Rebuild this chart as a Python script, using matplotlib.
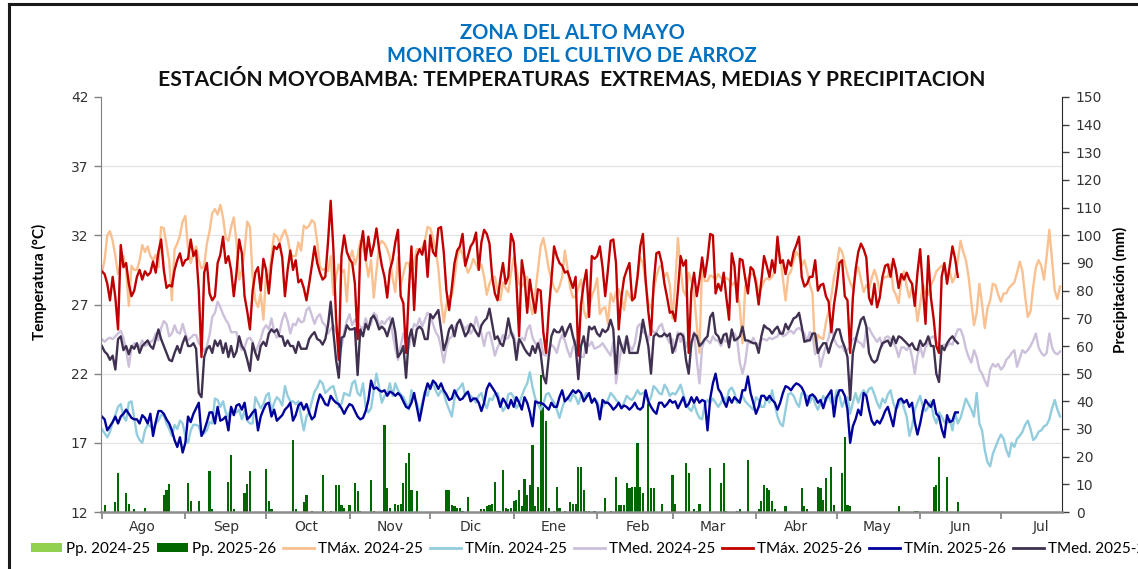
import numpy as np
import pandas as pd
import matplotlib
matplotlib.use("Agg")
import matplotlib.pyplot as plt
from matplotlib.patches import Patch
from matplotlib.lines import Line2D

######## Datos (valores diarios, desde el 1 de agosto)
inicio = "2025-08-01"
meses = ["Ago", "Sep", "Oct", "Nov", "Dic", "Ene", "Feb", "Mar", "Abr", "May", "Jun", "Jul"]

tmax_2425 = [
    29.3, 30.2, 32.0, 32.3, 31.6, 30.5, 29.2, 30.0, 30.5, 29.5,
    26.9, 29.8, 29.5, 29.5, 30.2, 31.3, 30.8, 31.2, 30.5, 30.2,
    30.6, 29.7, 32.6, 32.5, 31.3, 30.2, 27.3, 31.0, 31.4, 32.0,
    33.0, 33.4, 31.0, 30.0, 30.7, 31.2, 30.2, 29.6, 29.8, 31.4,
    32.3, 33.6, 33.9, 33.5, 34.2, 33.3, 31.8, 31.6, 32.6, 33.3,
    31.5, 28.8, 29.5, 30.9, 33.0, 32.6, 29.0, 27.3, 26.8, 27.8,
    25.9, 29.2, 29.0, 30.5, 32.1, 31.9, 31.5, 32.0, 32.4, 31.8,
    30.7, 30.5, 30.5, 31.5, 30.9, 32.7, 32.5, 32.7, 33.1, 32.9,
    31.5, 29.7, 29.5, 29.6, 29.4, 30.5, 27.7, 29.0, 29.9, 29.3,
    29.5, 27.2, 30.2, 30.9, 29.9, 30.5, 31.6, 31.1, 30.3, 29.0,
    30.2, 27.5, 29.4, 31.3, 31.6, 31.4, 31.0, 30.4, 28.9, 27.9,
    30.4, 28.4, 29.2, 30.0, 30.0, 28.9, 30.0, 31.0, 31.0, 31.1,
    31.6, 32.6, 32.5, 31.8, 31.0, 29.6, 27.3, 25.7, 27.0, 27.6,
    27.6, 28.9, 30.4, 31.1, 30.6, 29.9, 29.3, 29.7, 30.3, 29.9,
    29.5, 29.9, 29.0, 27.7, 28.5, 29.0, 29.0, 28.0, 27.3, 28.6,
    28.2, 27.9, 29.3, 30.4, 29.6, 28.5, 28.3, 28.6, 29.0, 27.0,
    26.3, 27.8, 29.5, 31.2, 31.8, 30.8, 29.6, 28.8, 28.2, 27.9,
    28.3, 29.0, 30.9, 29.6, 28.2, 27.5, 27.6, 28.2, 28.8, 26.6,
    26.0, 26.7, 27.6, 28.1, 28.9, 26.3, 26.7, 26.8, 25.6, 27.8,
    27.2, 27.9, 28.1, 27.5, 26.6, 28.0, 27.6, 27.3, 27.8, 29.0,
    30.4, 30.0, 28.5, 27.1, 26.7, 28.0, 29.0, 29.7, 29.8, 29.0,
    29.3, 28.4, 26.0, 28.5, 31.8, 29.5, 28.0, 27.6, 29.3, 28.7,
    27.8, 25.5, 23.5, 30.0, 28.7, 28.7, 29.1, 29.0, 28.8, 29.2,
    28.9, 29.0, 28.9, 28.8, 28.4, 28.6, 27.9, 26.8, 24.2, 28.3,
    28.9, 29.2, 29.2, 28.9, 27.8, 28.2, 28.7, 28.9, 28.8, 29.0,
    29.4, 31.2, 30.5, 28.9, 27.3, 29.1, 29.4, 30.2, 30.8, 30.5,
    29.8, 30.2, 29.4, 28.4, 27.8, 23.5, 24.8, 24.6, 24.5, 25.7,
    26.5, 27.6, 29.0, 29.8, 31.1, 30.8, 30.0, 29.2, 28.6, 28.1,
    29.2, 29.7, 28.8, 27.9, 28.4, 28.1, 28.9, 29.5, 28.9, 27.9,
    28.8, 29.0, 29.0, 29.9, 28.1, 27.7, 27.1, 28.7, 29.4, 28.3,
    27.5, 28.3, 27.5, 25.8, 27.0, 28.5, 27.8, 27.7, 28.4, 28.8,
    29.4, 29.6, 29.8, 29.8, 29.0, 29.4, 28.6, 29.0, 30.2, 31.6,
    30.8, 30.2, 29.0, 27.2, 25.5, 26.4, 28.5, 27.0, 25.3, 26.7,
    27.3, 28.5, 28.4, 27.7, 27.2, 27.8, 27.8, 28.2, 28.4, 28.6,
    29.3, 30.1, 29.4, 27.6, 26.1, 26.5, 28.3, 29.7, 30.2, 29.8,
    28.8, 30.5, 32.4, 30.2, 28.0, 27.4, 28.3,
]

tmin_2425 = [
    18.0, 17.7, 17.4, 17.8, 18.5, 19.0, 19.6, 19.8, 18.9, 18.6,
    19.9, 20.0, 18.8, 17.6, 17.2, 17.0, 17.9, 18.3, 18.2, 18.0,
    18.4, 18.6, 19.0, 19.0, 18.4, 18.0, 17.5, 18.3, 18.0, 18.6,
    18.4, 17.5, 17.0, 17.9, 18.3, 18.3, 18.2, 17.5, 17.7, 17.9,
    18.5, 18.4, 20.2, 20.1, 19.6, 20.0, 19.2, 18.9, 19.5, 19.3,
    19.2, 19.4, 18.7, 19.3, 18.6, 18.4, 18.4, 20.3, 19.9, 19.5,
    19.8, 20.4, 20.6, 19.2, 19.9, 20.3, 20.1, 19.7, 21.1, 20.4,
    20.0, 20.0, 19.8, 20.0, 18.9, 17.9, 18.9, 19.2, 20.0, 20.7,
    21.0, 21.5, 21.3, 20.6, 20.8, 21.0, 21.1, 20.4, 19.6, 19.8,
    20.6, 20.5, 20.4, 21.3, 21.5, 20.6, 20.4, 21.3, 19.6, 19.2,
    19.5, 20.8, 22.0, 21.0, 19.9, 20.4, 20.5, 21.3, 20.4, 21.3,
    20.8, 20.5, 20.3, 19.9, 19.4, 20.8, 20.2, 19.9, 19.1, 19.9,
    20.7, 20.4, 21.2, 21.3, 20.8, 20.4, 20.8, 20.6, 19.9, 19.4,
    18.9, 20.2, 20.8, 21.0, 21.3, 20.4, 20.6, 20.4, 20.2, 19.9,
    20.4, 20.6, 19.9, 19.5, 20.2, 20.1, 20.5, 20.6, 19.9, 19.3,
    19.6, 20.5, 20.6, 20.3, 19.5, 19.8, 20.4, 20.9, 21.3, 22.1,
    21.0, 20.2, 19.8, 19.4, 19.8, 20.5, 20.6, 20.2, 19.9, 19.4,
    18.8, 19.5, 20.1, 20.3, 20.0, 20.5, 20.3, 19.8, 20.4, 20.3,
    20.6, 20.4, 19.9, 20.2, 20.0, 19.4, 19.6, 19.9, 20.1, 20.6,
    20.4, 20.1, 19.9, 19.5, 19.9, 20.4, 20.2, 20.1, 20.4, 20.8,
    20.5, 20.6, 20.7, 19.9, 20.3, 21.1, 20.9, 20.6, 20.5, 21.2,
    20.9, 20.4, 20.6, 20.5, 20.8, 21.2, 20.5, 19.9, 19.5, 19.3,
    19.8, 19.2, 18.8, 18.7, 19.8, 20.1, 19.9, 20.2, 19.9, 19.6,
    19.9, 20.3, 20.0, 20.8, 21.0, 20.6, 19.9, 20.1, 20.4, 20.0,
    19.8, 19.6, 19.4, 20.3, 20.1, 19.6, 19.6, 20.3, 19.9, 20.8,
    19.8, 18.9, 18.4, 18.2, 19.4, 20.5, 20.6, 20.4, 19.9, 19.6,
    20.6, 20.5, 20.4, 19.9, 20.4, 19.8, 19.4, 19.9, 20.4, 20.0,
    20.4, 19.9, 20.0, 20.8, 20.4, 19.6, 20.1, 20.3, 19.1, 19.9,
    20.6, 19.9, 20.5, 20.8, 20.5, 20.9, 21.0, 20.5, 19.9, 19.5,
    20.2, 19.9, 20.5, 20.8, 19.9, 19.4, 19.7, 20.2, 19.5, 18.9,
    17.5, 18.2, 19.4, 19.9, 20.4, 19.6, 19.3, 19.6, 20.0, 18.9,
    18.4, 19.2, 18.9, 18.5, 18.4, 18.7, 17.9, 19.2, 18.4, 18.8,
    19.5, 20.2, 19.8, 19.4, 18.9, 20.6, 18.4, 17.9, 16.5, 15.6,
    15.3, 16.2, 16.7, 17.2, 17.6, 17.3, 16.5, 16.0, 17.0, 16.7,
    17.3, 17.5, 17.8, 18.3, 18.6, 18.0, 17.2, 17.4, 17.8, 17.9,
    18.2, 18.3, 18.7, 19.5, 20.1, 19.4, 18.9,
]

tmed_2425 = [
    24.5, 24.3, 24.5, 24.6, 24.5, 24.7, 24.9, 25.1, 24.6, 23.7,
    22.5, 23.9, 24.2, 24.1, 23.9, 24.4, 24.0, 24.1, 24.3, 24.4,
    24.9, 24.4, 25.3, 25.8, 25.6, 24.7, 24.9, 25.5, 25.0, 24.9,
    25.6, 24.9, 24.4, 24.6, 24.8, 24.8, 24.2, 24.0, 23.6, 24.0,
    24.8, 26.1, 26.4, 27.2, 26.8, 26.3, 25.9, 25.6, 25.0, 25.0,
    25.0, 24.1, 23.7, 23.9, 24.5, 24.6, 24.3, 23.5, 24.0, 24.5,
    25.2, 25.5, 25.2, 26.0, 25.0, 24.6, 25.0, 25.9, 26.4, 25.8,
    24.9, 25.6, 25.5, 26.0, 25.7, 25.8, 26.6, 26.8, 26.2, 25.6,
    26.1, 26.3, 25.7, 25.5, 24.9, 25.2, 25.5, 25.0, 24.6, 23.9,
    25.0, 25.8, 26.3, 25.5, 25.9, 25.7, 25.4, 25.2, 26.0, 25.4,
    25.6, 26.4, 26.2, 25.4, 25.8, 25.6, 25.9, 26.1, 24.9, 23.8,
    23.0, 24.0, 24.9, 24.2, 23.9, 24.9, 25.6, 25.4, 26.0, 25.4,
    25.9, 26.4, 26.2, 25.6, 25.0, 24.7, 23.9, 22.8, 23.9, 24.5,
    24.7, 25.3, 25.6, 25.9, 25.5, 25.2, 25.5, 24.9, 25.2, 26.1,
    25.4, 24.9, 24.0, 24.9, 25.0, 24.2, 23.3, 23.9, 24.3, 24.8,
    24.5, 24.6, 25.1, 24.8, 23.9, 24.4, 24.6, 24.4, 25.2, 25.5,
    24.6, 24.2, 23.9, 24.5, 23.4, 23.3, 23.7, 24.1, 23.9, 23.5,
    24.3, 24.8, 24.4, 23.7, 23.2, 23.9, 24.4, 23.8, 23.2, 23.2,
    24.2, 24.0, 24.3, 23.8, 23.9, 24.0, 24.2, 23.9, 23.6, 23.3,
    24.3, 21.3, 22.6, 23.9, 24.1, 24.7, 24.0, 23.7, 24.2, 25.4,
    25.6, 25.0, 24.9, 24.4, 25.2, 25.0, 25.0, 25.4, 25.6, 24.9,
    24.6, 24.2, 24.5, 23.6, 25.0, 24.3, 24.9, 23.9, 24.5, 24.0,
    25.0, 23.0, 21.3, 23.9, 24.5, 24.4, 24.2, 24.7, 24.4, 24.4,
    24.0, 24.5, 24.3, 24.4, 25.0, 24.9, 24.5, 22.8, 22.0, 22.8,
    24.3, 24.2, 24.6, 24.1, 24.1, 24.5, 24.5, 24.4, 24.6, 24.5,
    24.6, 24.7, 25.1, 24.7, 24.8, 25.0, 25.1, 24.9, 25.2, 25.3,
    25.1, 24.9, 24.3, 25.0, 24.8, 23.4, 23.8, 22.5, 23.3, 24.0,
    24.6, 25.5, 24.5, 24.1, 23.9, 24.0, 23.6, 23.7, 24.0, 24.5,
    24.6, 24.3, 24.2, 23.9, 25.2, 25.3, 24.9, 24.6, 24.3, 24.6,
    24.0, 24.6, 24.7, 24.5, 24.2, 23.9, 23.2, 23.9, 23.9, 23.7,
    24.0, 23.2, 22.0, 23.3, 24.0, 23.2, 23.9, 24.2, 24.6, 24.7,
    24.3, 24.1, 24.0, 24.1, 24.0, 24.2, 24.1, 24.7, 25.2, 25.2,
    24.7, 23.8, 23.2, 22.8, 23.7, 23.2, 22.3, 22.0, 21.5, 21.1,
    22.3, 22.7, 22.5, 22.7, 22.3, 22.5, 23.0, 23.2, 23.5, 23.7,
    22.5, 23.1, 23.7, 23.5, 23.7, 24.0, 24.4, 24.9, 23.9, 23.5,
    23.3, 23.5, 24.9, 23.9, 23.5, 23.4, 23.6,
]

tmax_2526 = [
    29.4, 29.2, 28.5, 27.3, 29.0, 27.5, 25.2, 31.3, 29.7, 30.0,
    28.5, 27.6, 28.0, 29.0, 29.5, 28.8, 29.4, 29.1, 29.3, 30.1,
    29.3, 30.8, 31.7, 29.5, 28.2, 28.4, 28.3, 29.5, 30.2, 30.7,
    29.8, 30.2, 30.3, 31.7, 30.5, 30.9, 28.0, 23.2, 29.3, 30.0,
    27.8, 27.3, 27.6, 30.0, 30.6, 31.9, 30.0, 30.5, 29.5, 27.6,
    29.3, 31.7, 30.7, 27.6, 26.5, 25.2, 28.0, 29.3, 29.7, 28.0,
    30.3, 29.5, 27.8, 29.9, 31.2, 31.0, 31.4, 30.4, 27.6, 29.5,
    30.9, 29.5, 30.2, 28.6, 28.8, 28.2, 27.3, 28.5, 29.8, 31.2,
    30.0, 29.3, 28.8, 29.0, 31.5, 34.5, 31.0, 26.0, 23.0, 30.5,
    32.0, 30.8, 30.3, 30.0, 28.5, 24.5, 31.0, 32.3, 30.2, 31.9,
    30.5, 31.3, 32.5, 31.0, 29.8, 29.0, 27.5, 29.5, 30.2, 31.5,
    32.4, 27.6, 27.1, 23.5, 27.8, 31.2, 26.6, 30.5, 31.0, 30.6,
    31.6, 29.0, 32.0, 30.8, 30.5, 32.5, 32.6, 30.8, 28.0, 26.6,
    28.2, 30.0, 30.9, 31.2, 32.1, 29.8, 30.5, 31.2, 31.5, 32.2,
    29.5, 31.5, 32.4, 32.1, 31.4, 29.0, 27.8, 27.3, 28.8, 30.0,
    28.5, 29.0, 32.1, 31.5, 28.6, 24.7, 30.2, 29.0, 26.4, 28.8,
    27.5, 26.4, 28.1, 28.0, 25.0, 23.5, 26.5, 28.8, 31.2, 30.5,
    30.0, 29.8, 29.3, 29.4, 28.8, 28.2, 29.0, 23.3, 27.0, 28.5,
    29.5, 26.1, 30.5, 30.3, 30.5, 31.2, 29.7, 27.6, 29.5, 31.6,
    31.7, 30.0, 25.2, 27.5, 28.9, 29.5, 30.0, 27.3, 27.5, 29.0,
    31.2, 32.1, 28.8, 26.5, 24.8, 28.5, 30.7, 30.8, 30.0, 28.5,
    27.5, 26.4, 26.5, 25.8, 28.0, 30.5, 29.8, 30.2, 23.5, 28.0,
    29.3, 27.6, 28.8, 30.4, 29.0, 30.3, 32.1, 32.0, 27.8, 28.5,
    28.0, 29.3, 27.5, 25.9, 30.7, 29.8, 27.2, 30.3, 30.2, 28.9,
    27.8, 29.7, 29.5, 28.5, 27.0, 28.7, 30.5, 29.8, 29.0, 30.2,
    29.3, 31.9, 30.0, 30.2, 29.2, 30.2, 29.8, 30.8, 31.3, 31.9,
    29.0, 28.3, 28.5, 29.0, 29.0, 30.2, 28.0, 28.4, 28.5, 27.6,
    27.2, 25.0, 27.0, 28.3, 30.0, 30.2, 27.6, 27.3, 23.5, 27.5,
    29.5, 30.8, 31.4, 31.0, 30.4, 27.5, 27.0, 28.5, 26.8, 27.5,
    29.0, 29.8, 29.9, 29.0, 30.3, 29.5, 28.2, 29.2, 28.8, 29.3,
    28.8, 28.5, 26.9, 29.3, 31.0, 28.2, 25.6, 30.5, 27.5, 26.0,
    24.0, 23.5, 29.0, 30.0, 28.5, 29.8, 31.2, 30.3, 29.0,
]

tmin_2526 = [
    18.9, 18.7, 17.9, 18.2, 18.5, 18.9, 18.4, 18.9, 19.1, 19.4,
    19.1, 18.8, 18.7, 18.7, 18.4, 19.0, 18.8, 18.4, 19.1, 17.5,
    18.5, 19.3, 19.3, 19.1, 18.7, 18.4, 17.9, 17.2, 16.7, 17.4,
    16.3, 17.0, 18.9, 18.5, 19.1, 19.5, 19.9, 17.5, 17.9, 18.5,
    19.2, 19.2, 18.4, 19.6, 18.6, 18.7, 18.9, 17.9, 19.6, 19.0,
    19.7, 19.8, 19.4, 19.9, 18.7, 18.9, 19.2, 19.4, 17.9, 18.9,
    19.4, 19.8, 19.9, 18.9, 19.4, 18.6, 18.8, 19.0, 19.4, 19.6,
    19.9, 18.6, 19.0, 19.7, 19.9, 19.4, 19.8, 19.2, 18.7, 18.9,
    19.8, 20.5, 20.2, 19.8, 19.7, 20.4, 20.1, 19.9, 19.8, 19.5,
    19.1, 19.5, 19.8, 19.7, 19.3, 18.9, 18.7, 18.8, 19.3, 20.1,
    21.5, 20.9, 21.0, 20.8, 20.7, 20.8, 20.4, 20.7, 20.6, 20.4,
    20.6, 20.4, 20.0, 19.6, 19.5, 19.9, 20.6, 19.6, 18.6, 19.6,
    20.6, 21.3, 20.9, 21.5, 21.3, 20.9, 21.3, 20.8, 20.5, 20.1,
    20.2, 20.8, 20.4, 20.1, 20.2, 20.5, 20.7, 20.0, 20.2, 20.2,
    19.9, 19.3, 19.9, 20.9, 21.3, 21.0, 20.7, 20.3, 19.6, 20.2,
    19.9, 19.5, 20.1, 19.6, 20.3, 19.9, 19.4, 20.3, 19.9, 19.2,
    18.2, 20.0, 19.9, 19.9, 19.8, 19.6, 19.4, 19.9, 19.6, 19.6,
    20.3, 20.8, 20.0, 20.2, 20.5, 20.8, 20.6, 20.8, 20.6, 20.0,
    20.3, 20.6, 19.9, 20.2, 19.8, 18.7, 20.1, 19.9, 19.9, 19.7,
    19.4, 19.6, 19.9, 19.5, 19.7, 19.6, 19.4, 19.6, 19.9, 19.5,
    19.4, 19.6, 20.8, 20.0, 19.6, 19.3, 19.1, 19.9, 19.9, 19.6,
    19.8, 20.1, 19.9, 20.0, 19.5, 19.9, 20.3, 19.6, 19.8, 20.3,
    19.9, 20.3, 19.9, 20.1, 20.0, 17.9, 20.2, 21.3, 22.0, 20.9,
    20.6, 20.0, 19.6, 20.3, 19.9, 20.3, 20.1, 19.9, 20.8, 20.8,
    21.8, 20.6, 19.9, 19.1, 19.6, 20.4, 20.4, 20.1, 20.4, 20.1,
    19.9, 19.4, 19.9, 20.6, 21.1, 21.0, 20.8, 21.1, 21.3, 21.2,
    21.0, 20.6, 19.7, 20.4, 20.5, 20.3, 19.9, 20.1, 19.5, 20.2,
    20.5, 20.8, 18.9, 20.3, 20.8, 20.8, 20.4, 19.4, 17.0, 18.2,
    18.7, 19.4, 19.0, 20.6, 20.4, 19.4, 18.6, 18.3, 18.6, 18.4,
    18.8, 19.3, 19.6, 18.9, 18.2, 19.4, 20.1, 20.2, 19.9, 20.1,
    19.6, 19.9, 18.5, 17.6, 18.4, 19.4, 20.1, 19.8, 19.6, 20.1,
    19.1, 18.9, 18.0, 17.4, 19.0, 18.5, 18.6, 19.2, 19.2,
]

tmed_2526 = [
    24.0, 23.6, 23.4, 23.0, 23.3, 22.3, 24.5, 24.7, 23.7, 24.0,
    23.4, 24.0, 23.8, 24.2, 23.5, 24.0, 24.2, 24.4, 24.0, 23.8,
    24.5, 25.2, 24.5, 24.0, 23.5, 23.0, 22.9, 23.5, 24.0, 23.5,
    24.2, 24.7, 24.0, 24.0, 24.2, 23.8, 20.6, 20.3, 23.2, 23.8,
    24.0, 23.5, 24.4, 24.0, 24.4, 23.5, 24.2, 23.2, 24.0, 23.2,
    23.6, 24.7, 24.0, 23.7, 23.0, 22.2, 24.2, 23.5, 23.0, 24.0,
    24.3, 24.0, 24.9, 25.2, 25.0, 25.2, 24.7, 24.7, 24.0, 24.4,
    24.0, 24.0, 23.5, 24.3, 23.8, 23.8, 23.8, 24.5, 24.8, 25.0,
    24.5, 24.4, 24.1, 24.5, 25.5, 27.2, 25.0, 23.0, 21.7, 24.6,
    24.7, 25.5, 25.2, 25.2, 25.3, 21.9, 25.2, 24.7, 25.6, 25.2,
    26.0, 26.2, 25.8, 25.2, 25.4, 25.2, 24.7, 25.4, 26.0, 25.0,
    23.2, 23.5, 24.0, 21.7, 24.5, 25.2, 24.0, 25.2, 25.4, 25.2,
    24.5, 24.5, 26.3, 26.0, 26.3, 26.6, 25.2, 23.7, 24.3, 25.2,
    25.5, 24.7, 25.6, 25.9, 25.3, 24.7, 25.0, 25.6, 25.4, 25.0,
    24.7, 25.5, 25.8, 26.0, 26.7, 25.6, 24.5, 24.7, 24.2, 24.0,
    24.8, 26.0, 25.0, 24.5, 23.0, 24.5, 24.2, 23.8, 23.5, 23.3,
    24.0, 23.5, 24.2, 23.5, 21.8, 21.3, 23.2, 24.7, 25.2, 25.0,
    25.0, 25.4, 24.7, 25.2, 25.6, 24.7, 24.0, 21.6, 24.0, 24.7,
    23.5, 25.4, 25.2, 25.4, 24.9, 24.7, 25.2, 25.0, 25.2, 25.9,
    25.2, 22.0, 24.7, 24.0, 23.5, 24.7, 23.5, 23.5, 23.5, 23.5,
    24.5, 25.9, 24.9, 24.0, 22.0, 24.7, 24.9, 24.7, 24.7, 24.9,
    24.7, 24.9, 23.5, 24.0, 24.8, 24.9, 24.7, 23.0, 22.0, 24.2,
    24.9, 24.7, 24.0, 24.2, 24.5, 24.7, 26.1, 26.4, 24.9, 24.7,
    24.2, 24.8, 24.9, 23.9, 25.2, 24.4, 24.5, 24.7, 25.4, 24.4,
    24.4, 24.3, 24.2, 24.2, 23.5, 24.7, 25.5, 25.3, 25.2, 24.9,
    25.2, 25.4, 24.9, 24.9, 25.6, 25.2, 25.6, 26.0, 26.1, 26.4,
    25.4, 24.3, 24.4, 24.4, 24.9, 24.9, 23.5, 23.9, 24.2, 24.2,
    23.5, 24.2, 24.7, 25.2, 25.2, 24.4, 23.9, 23.2, 20.1, 23.5,
    24.4, 25.2, 25.9, 26.1, 25.4, 23.5, 23.0, 22.8, 23.0, 23.7,
    24.2, 24.3, 24.4, 24.0, 24.7, 24.2, 24.7, 24.6, 24.4, 24.2,
    24.0, 24.2, 23.8, 23.7, 24.4, 24.0, 24.2, 24.7, 24.0, 24.0,
    22.0, 21.4, 24.0, 23.7, 24.2, 24.5, 24.7, 24.4, 24.2,
]

# precipitacion diaria 2025-26: (dia desde el 1 de agosto, mm); dias sin lluvia omitidos
pp_2526 = [
    (1, 2.5), (5, 3.7), (6, 14.0), (9, 6.8), (10, 3.0), (12, 1.0), (16, 1.5),
    (23, 6.0), (24, 8.0), (25, 10.0), (32, 10.5), (33, 4.0), (36, 4.0), (40, 15.0),
    (41, 1.0), (47, 11.0), (48, 20.5), (49, 1.0), (53, 7.0), (54, 10.0), (55, 15.0),
    (61, 15.5), (62, 4.0), (63, 1.0), (71, 26.0), (72, 1.0), (75, 3.5), (76, 6.0),
    (78, 0.5), (82, 13.4), (83, 0.5), (85, 0.5), (87, 9.8), (88, 9.8), (89, 2.5),
    (90, 1.3), (92, 2.5), (94, 10.4), (95, 7.5), (96, 0.5), (100, 11.6), (101, 0.5),
    (105, 31.5), (106, 8.5), (107, 1.5), (109, 3.0), (110, 2.5), (111, 3.0), (112, 10.4),
    (113, 17.6), (114, 21.2), (115, 8.0), (117, 7.5), (128, 8.0), (129, 8.0), (130, 2.5),
    (131, 2.0), (132, 1.3), (133, 1.3), (134, 0.5), (136, 5.5), (141, 1.0), (142, 1.0),
    (143, 2.0), (144, 2.5), (145, 3.0), (146, 11.0), (147, 0.5), (148, 0.3), (149, 15.2),
    (150, 1.5), (151, 1.0), (152, 1.5), (153, 4.0), (154, 4.5), (155, 8.0), (156, 2.0),
    (157, 12.0), (158, 6.0), (159, 9.8), (160, 24.2), (161, 2.0), (162, 9.0), (163, 49.5),
    (164, 38.0), (165, 33.0), (166, 1.5), (168, 0.5), (169, 9.2), (170, 1.3), (172, 0.5),
    (174, 3.7), (175, 3.0), (176, 3.0), (177, 16.4), (178, 16.4), (179, 8.0), (180, 0.5),
    (181, 0.5), (183, 0.5), (187, 4.9), (189, 0.5), (191, 12.8), (192, 2.5), (193, 2.5),
    (194, 2.5), (195, 10.4), (196, 8.5), (197, 9.2), (198, 9.2), (199, 24.8), (200, 9.2),
    (201, 6.8), (203, 41.0), (204, 8.5), (205, 8.5), (208, 3.0), (212, 13.4), (213, 3.0),
    (217, 17.6), (218, 14.0), (220, 1.0), (221, 0.5), (222, 3.0), (226, 15.8), (230, 10.4),
    (231, 17.6), (232, 0.5), (236, 0.5), (237, 1.0), (240, 18.8), (244, 1.0), (245, 4.0),
    (246, 9.8), (247, 8.5), (248, 8.0), (249, 4.0), (250, 1.0), (254, 2.0), (260, 8.5),
    (261, 2.0), (262, 1.0), (266, 9.2), (267, 8.5), (268, 4.5), (269, 12.2), (271, 16.4),
    (272, 2.5), (275, 14.0), (276, 27.2), (277, 2.5), (278, 2.0), (296, 2.0), (302, 0.5),
    (303, 0.5), (309, 9.2), (310, 9.8), (311, 20.0), (312, 0.5), (314, 12.8), (318, 3.7),
]
pp_2425 = []  # no se ven barras de la campaña anterior

######## Estilos
colores = {
    "pp_2425": "#92D050", "pp_2526": "#006600",
    "tmax_2425": "#FAC090", "tmin_2425": "#93CDDD", "tmed_2425": "#CCC0DA",
    "tmax_2526": "#C00000", "tmin_2526": "#00009A", "tmed_2526": "#403151",
}
calibri = ["Lato", "DejaVu Sans"]
W, H = 1138, 569


def fechas(serie):
    return pd.date_range(inicio, periods=len(serie), freq="D")


def barras(ax, datos, color, z):
    if not datos:
        return
    t0 = pd.Timestamp(inicio)
    ax.bar(t0 + pd.to_timedelta([d for d, _ in datos], unit="D"),
           [v for _, v in datos], width=0.8, color=color, zorder=z)


fig = plt.figure(figsize=(W / 100, H / 100), dpi=100)
ax = fig.add_axes([101 / W, 1 - 512 / H, 961 / W, 415 / H])
ax2 = ax.twinx()
ax.set_zorder(ax2.get_zorder() + 1)
ax.patch.set_visible(False)

t0 = pd.Timestamp(inicio)

###Precipitacion (eje derecho)
for t in [17, 22, 27, 32, 37]:
    ax2.axhline((t - 12) * 5, color="#e4e4e4", lw=0.9, zorder=0)
barras(ax2, pp_2425, colores["pp_2425"], 2)
barras(ax2, pp_2526, colores["pp_2526"], 3)

###Temperaturas (eje izquierdo)
for nombre, serie in [("tmax_2425", tmax_2425), ("tmin_2425", tmin_2425), ("tmed_2425", tmed_2425),
                      ("tmax_2526", tmax_2526), ("tmin_2526", tmin_2526), ("tmed_2526", tmed_2526)]:
    ax.plot(fechas(serie), serie, color=colores[nombre], lw=1.7, solid_joinstyle="round")

ax.set_ylim(12, 42)
ax.set_yticks(range(12, 43, 5))
ax2.set_ylim(0, 150)
ax2.set_yticks(range(0, 151, 10))
ax.set_xlim(t0 - pd.Timedelta(hours=8), t0 + pd.Timedelta(days=356.7))

limites = pd.date_range(t0, periods=12, freq="MS")
ax.set_xticks(limites)
ax.set_xticklabels([])
ax.set_xticks(limites + pd.Timedelta(days=15), minor=True)
ax.set_xticklabels(meses, minor=True)
ax.tick_params(axis="x", which="major", length=5, width=1.2, color="#808080")
ax.tick_params(axis="x", which="minor", length=0, labelsize=10, pad=6, labelcolor="#333333")
ax.tick_params(axis="y", length=5, width=1, color="#808080", labelsize=10, labelcolor="#333333", pad=4)
ax2.tick_params(axis="y", length=5, width=1, color="#404040", labelsize=10, labelcolor="#333333", pad=5)

for s in ["top", "right"]:
    ax.spines[s].set_visible(False)
ax.spines["left"].set_color("#808080")
ax.spines["bottom"].set_color("#8c8c8c")
ax.spines["bottom"].set_linewidth(1.8)
for s in ["top", "left", "bottom"]:
    ax2.spines[s].set_visible(False)
ax2.spines["right"].set_color("#262626")

ax.set_ylabel("Temperatura (°C)", fontsize=11, fontweight="bold", family=calibri)
ax.yaxis.set_label_coords(-0.0562, 0.554)
ax2.set_ylabel("Precipitación (mm)", fontsize=11, fontweight="bold", family=calibri)
ax2.yaxis.set_label_coords(1.053, 0.535)

###Titulos
fig.text(572 / W, 1 - 33 / H, "ZONA DEL ALTO MAYO", ha="center", va="center",
         fontsize=14.5, fontweight="bold", color="#0070C0", family=calibri)
fig.text(572 / W, 1 - 56 / H, "MONITOREO  DEL CULTIVO DE ARROZ", ha="center", va="center",
         fontsize=14.5, fontweight="bold", color="#0070C0", family=calibri)
fig.text(572 / W, 1 - 78 / H, "ESTACIÓN MOYOBAMBA: TEMPERATURAS  EXTREMAS, MEDIAS Y PRECIPITACION",
         ha="center", va="center", fontsize=15.2, fontweight="bold", color="#111111", family=calibri)

###Leyenda
handles = [Patch(facecolor=colores["pp_2425"]), Patch(facecolor=colores["pp_2526"])]
handles += [Line2D([], [], color=colores[k], lw=2)
            for k in ["tmax_2425", "tmin_2425", "tmed_2425", "tmax_2526", "tmin_2526", "tmed_2526"]]
etiquetas = ["Pp. 2024-25", "Pp. 2025-26", "TMáx. 2024-25", "TMín. 2024-25", "TMed. 2024-25",
             "TMáx. 2025-26", "TMín. 2025-26", "TMed. 2025-26"]
fig.legend(handles, etiquetas, loc="center left", bbox_to_anchor=(31 / W, 1 - 549 / H), ncol=8,
           frameon=False, prop={"family": calibri, "size": 11}, handlelength=2.0, handleheight=0.6,
           handletextpad=0.3, columnspacing=0.45, borderpad=0, borderaxespad=0)

###Marco
fig.add_artist(Line2D([9 / W, 9 / W], [0, 1 - 4 / H], color="#1a1a1a", lw=2.2))
fig.add_artist(Line2D([9 / W, 1], [1 - 4 / H, 1 - 4 / H], color="#1a1a1a", lw=2.2))

fig.savefig("out.png", dpi=100)
